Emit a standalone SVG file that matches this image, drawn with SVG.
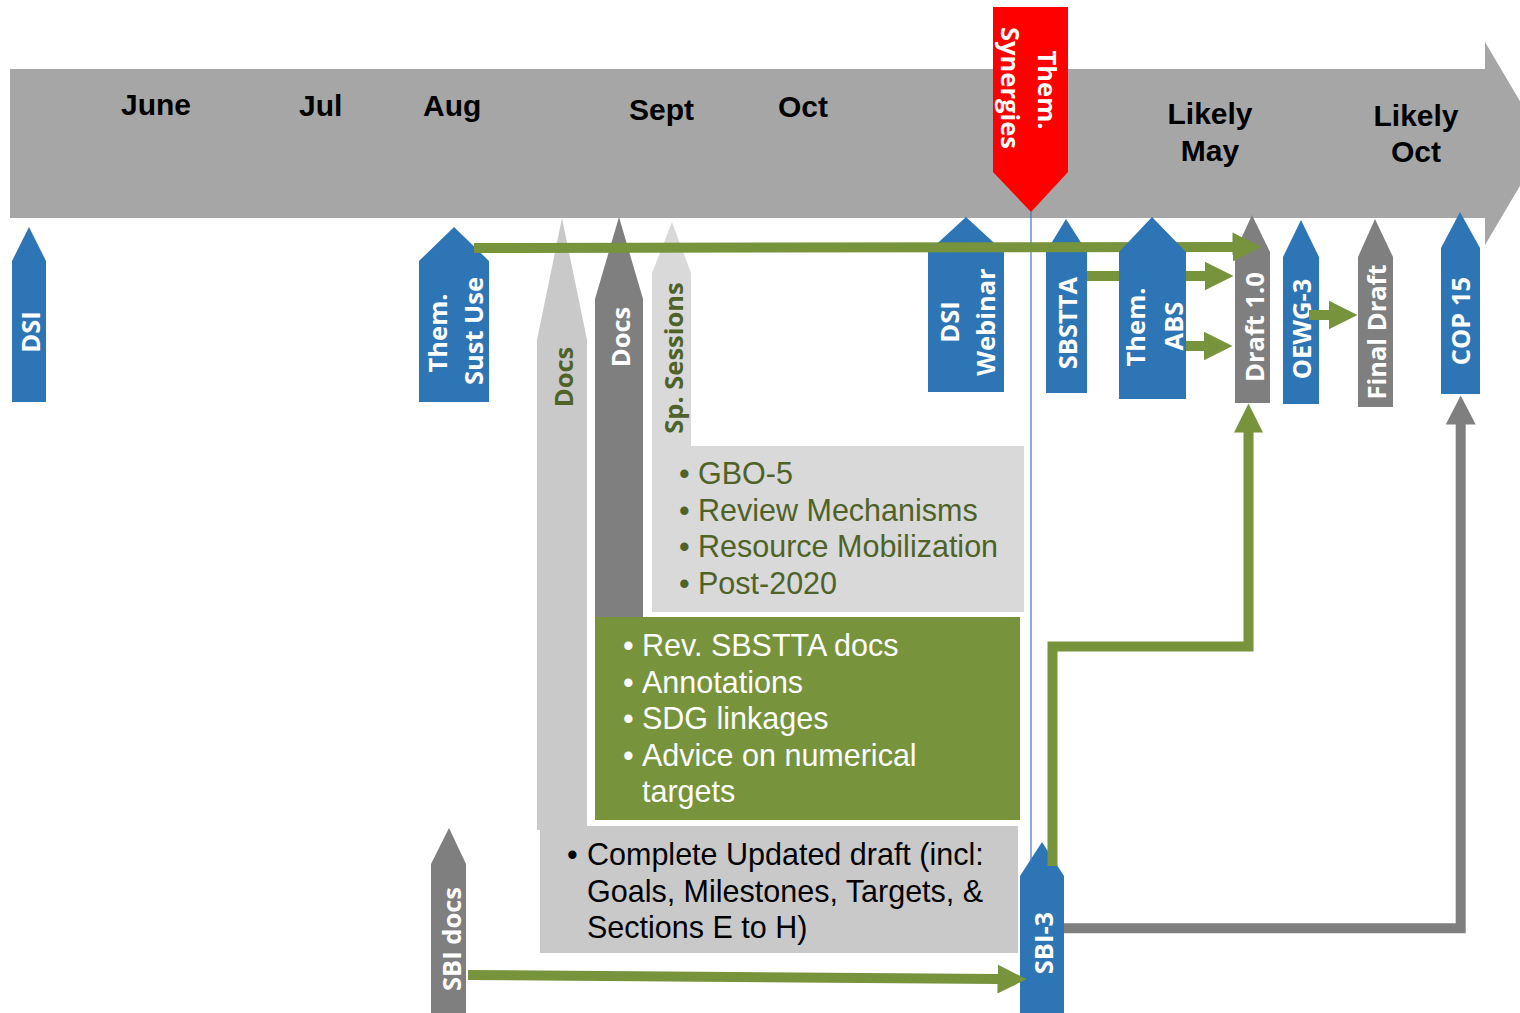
<svg xmlns="http://www.w3.org/2000/svg" width="1520" height="1013" viewBox="0 0 1520 1013">
<style>
.blue{fill:#2E75B6}
.dgray{fill:#7F7F7F}
.lgray{fill:#C9C9C9}
.xgray{fill:#D9D9D9}
.green{fill:#77933C}
.mon{font-family:"Liberation Sans",Arial,sans-serif;font-weight:bold;font-size:30px;fill:#000}
.vl{font-family:"Open Sans","Noto Sans",sans-serif;font-weight:bold;font-size:25.5px;fill:#fff;text-anchor:middle}
.vg{fill:#4F6228}
.bt{font-family:"Liberation Sans",Arial,sans-serif;font-size:30.5px}
.cg{fill:none;stroke:#77933C;stroke-width:10;stroke-linejoin:miter}
.cgr{fill:none;stroke:#7F7F7F;stroke-width:10;stroke-linejoin:miter}
</style>
<defs>
<marker id="ahg" markerUnits="userSpaceOnUse" markerWidth="29" markerHeight="29" viewBox="0 0 29 29" refX="0.5" refY="14.5" orient="auto"><path d="M0,0 L29,14.5 L0,29 Z" fill="#77933C"/></marker>
<marker id="ahd" markerUnits="userSpaceOnUse" markerWidth="30" markerHeight="30" viewBox="0 0 29 30" refX="0.5" refY="15" orient="auto"><path d="M0,0 L29,15 L0,30 Z" fill="#7F7F7F"/></marker>
</defs>
<rect width="1520" height="1013" fill="#fff"/>

<g id="timeline">
<path d="M10,69 H1485 V42 L1545,143.5 L1485,245 V218 H10 Z" fill="#A6A6A6"/>
<text class="mon" x="121" y="115">June</text>
<text class="mon" x="299" y="116">Jul</text>
<text class="mon" x="423" y="116">Aug</text>
<text class="mon" x="629" y="120">Sept</text>
<text class="mon" x="778" y="117">Oct</text>
<text class="mon" text-anchor="middle" x="1210" y="124">Likely</text>
<text class="mon" text-anchor="middle" x="1210" y="161">May</text>
<text class="mon" text-anchor="middle" x="1416" y="126">Likely</text>
<text class="mon" text-anchor="middle" x="1416" y="162">Oct</text>
</g>

<g id="docs-light">
<path class="lgray" d="M537,340 L562,218 L587,340 V830 H537 Z"/>
<text class="vl vg" transform="translate(573,377) rotate(-90)">Docs</text>
</g>
<g id="complete-box">
<rect class="lgray" x="540" y="826" width="478" height="127"/>
<text class="bt" fill="#000" y="865"><tspan x="567">•</tspan><tspan x="587">Complete Updated draft (incl:</tspan></text>
<text class="bt" fill="#000" x="587" y="901.5">Goals, Milestones, Targets, &amp;</text>
<text class="bt" fill="#000" x="587" y="937.5">Sections E to H)</text>
</g>
<g id="docs-dark">
<path class="dgray" d="M595,299 L619,217 L643,299 V617 H595 Z"/>
<text class="vl" transform="translate(630,337) rotate(-90)">Docs</text>
</g>
<g id="sp-sessions">
<path class="xgray" d="M652,273 L672,222 L691,273 V446 H1024 V612 H652 Z"/>
<text class="vl vg" transform="translate(683,358) rotate(-90)">Sp. Sessions</text>
<g class="bt vg">
<text y="484"><tspan x="679">•</tspan><tspan x="698">GBO-5</tspan></text>
<text y="520.7"><tspan x="679">•</tspan><tspan x="698">Review Mechanisms</tspan></text>
<text y="557.3"><tspan x="679">•</tspan><tspan x="698">Resource Mobilization</tspan></text>
<text y="594"><tspan x="679">•</tspan><tspan x="698">Post-2020</tspan></text>
</g>
</g>
<g id="sbsstta-box">
<rect class="green" x="595" y="617" width="425" height="203"/>
<g class="bt" fill="#fff">
<text y="656"><tspan x="623">•</tspan><tspan x="642">Rev. SBSTTA docs</tspan></text>
<text y="692.5"><tspan x="623">•</tspan><tspan x="642">Annotations</tspan></text>
<text y="729"><tspan x="623">•</tspan><tspan x="642">SDG linkages</tspan></text>
<text y="765.5"><tspan x="623">•</tspan><tspan x="642">Advice on numerical</tspan></text>
<text x="642" y="802">targets</text>
</g>
</g>

<g id="dsi">
<path class="blue" d="M12,261 L29,227 L46,261 V402 H12 Z"/>
<text class="vl" transform="translate(39.5,332) rotate(-90)">DSI</text>
</g>
<g id="them-sust-use">
<path class="blue" d="M419,261 L454,227 L489,261 V402 H419 Z"/>
<text class="vl" transform="translate(447,333) rotate(-90)">Them.</text>
<text class="vl" transform="translate(483,331) rotate(-90)">Sust Use</text>
</g>
<g id="dsi-webinar">
<path class="blue" d="M928,252 L966,217 L1004,252 V392 H928 Z"/>
<text class="vl" transform="translate(959,322) rotate(-90)">DSI</text>
<text class="vl" transform="translate(995,322) rotate(-90)">Webinar</text>
</g>
<g id="them-synergies">
<path d="M993,7 H1068 V172 L1031,212 L993,172 Z" fill="#FF0000"/>
<text class="vl" transform="translate(1038,90) rotate(90)">Them.</text>
<text class="vl" transform="translate(1001,88) rotate(90)">Synergies</text>
</g>
<g id="sbstta">
<path class="blue" d="M1046,252 L1066,219 L1087,252 V393 H1046 Z"/>
<text class="vl" transform="translate(1077,323) rotate(-90)">SBSTTA</text>
</g>
<g id="draft-1">
<path class="dgray" d="M1235,252 L1252,215 L1270,252 V403 H1235 Z"/>
<text class="vl" transform="translate(1264,327) rotate(-90)">Draft 1.0</text>
</g>
<g id="oewg-3">
<path class="blue" d="M1283,257 L1301,220 L1319,257 V404 H1283 Z"/>
<text class="vl" transform="translate(1311,329) rotate(-90)">OEWG-3</text>
</g>
<g id="final-draft">
<path class="dgray" d="M1358,257 L1375,219 L1393,257 V407 H1358 Z"/>
<text class="vl" transform="translate(1386,332) rotate(-90)">Final Draft</text>
</g>
<g id="cop-15">
<path class="blue" d="M1441,248 L1460,212 L1480,248 V394 H1441 Z"/>
<text class="vl" transform="translate(1470,321) rotate(-90)">COP 15</text>
</g>
<g id="sbi-docs">
<path class="dgray" d="M431,864 L449,828 L466,864 V1013 H431 Z"/>
<text class="vl" transform="translate(461,939) rotate(-90)">SBI docs</text>
</g>
<g id="sbi-3">
<path class="blue" d="M1020,876 L1042,842 L1064,876 V1013 H1020 Z"/>
<text class="vl" transform="translate(1053,943) rotate(-90)">SBI-3</text>
</g>

<g id="connectors">
<path d="M1031,212 V862" fill="none" stroke="#4472C4" stroke-width="1.2"/>
<path class="cg" d="M474,248 L1233,247" marker-end="url(#ahg)"/>
<path class="cg" d="M1087,276 H1205" marker-end="url(#ahg)"/>
<path class="cg" d="M1186,346 H1204" marker-end="url(#ahg)"/>
<path class="cg" d="M1309,315 H1329" marker-end="url(#ahg)"/>
<path class="cg" d="M1052.5,866 V646.5 H1248.5 V432" marker-end="url(#ahg)"/>
<path class="cgr" d="M1064,928.3 H1460.7 V424" marker-end="url(#ahd)"/>
<path class="cg" d="M468,975 L998,979" marker-end="url(#ahg)"/>
</g>

<g id="them-abs">
<path class="blue" d="M1119,252 L1152,217 L1186,252 V399 H1119 Z"/>
<text class="vl" transform="translate(1145,327) rotate(-90)">Them.</text>
<text class="vl" transform="translate(1183,326) rotate(-90)">ABS</text>
</g>
</svg>
